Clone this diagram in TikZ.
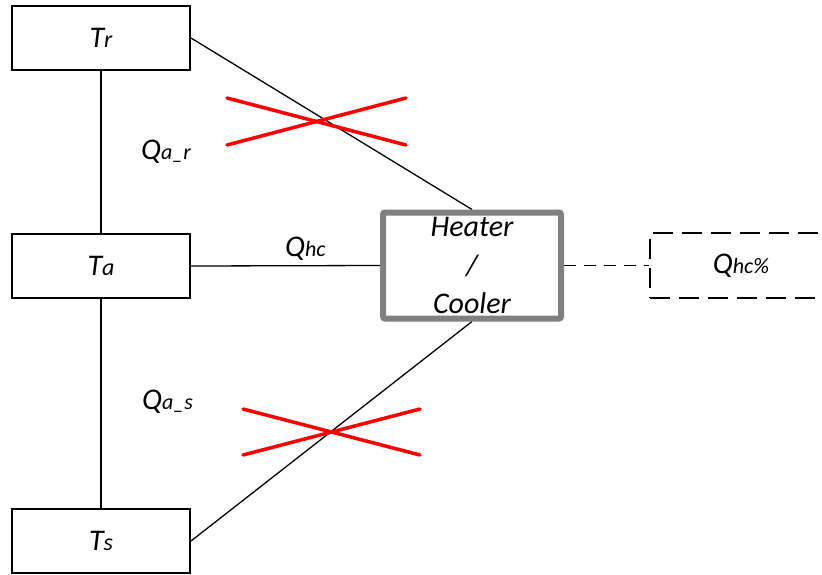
\documentclass[tikz,border=0pt]{standalone}
\usepackage{fontspec}
\setmainfont{Carlito}
\usetikzlibrary{backgrounds}
\newcommand{\mainsz}{\fontsize{30}{36}\selectfont\itshape}
\newcommand{\subT}[1]{{\fontsize{24}{28}\selectfont #1}}
\newcommand{\subQ}[1]{{\fontsize{22}{26}\selectfont #1}}
\tikzset{
  tbox/.style={draw=black, line width=2pt, fill=white, minimum width=178pt, minimum height=64pt, inner sep=0pt, font=\mainsz},
  hcbox/.style={draw=black!50, line width=6pt, fill=white, rounded corners=2pt, minimum width=178pt, minimum height=106pt, inner sep=0pt, align=center, font=\fontsize{30}{38.5}\selectfont\itshape},
  pbox/.style={draw=black, line width=2pt, dash pattern=on 20pt off 9pt, minimum width=182pt, minimum height=65pt, inner sep=0pt, font=\mainsz},
  conn/.style={draw=black, line width=1.3pt},
  dconn/.style={draw=black, line width=1.6pt, dash pattern=on 12pt off 8pt},
  lbl/.style={anchor=base west, inner sep=0pt, font=\mainsz},
  cross/.style={draw=red, line width=3.5pt, line cap=round}
}
\begin{document}
\begin{tikzpicture}[x=1pt,y=-1pt]
\useasboundingbox (0,0) rectangle (822,574);
\begin{scope}
\clip (0,0) rectangle (822,574);
\node[tbox] (Tr) at (101,38) {T\subT{r}};
\node[tbox] (Ta) at (101,266) {T\subT{a}};
\node[tbox] (Ts) at (101,541) {T\subT{s}};
\node[hcbox] (HC) at (472,265.5) {Heater\\/\\Cooler};
\node[pbox] (P) at (741,265.5) {Q\subQ{hc\%}};
\begin{scope}[on background layer]
\draw[conn] (Tr.south) -- (Ta.north);
\draw[conn] (Ta.south) -- (Ts.north);
\draw[conn] (Tr.east) -- (HC.north);
\draw[conn] (Ta.east) -- (HC.west);
\draw[conn] (Ts.east) -- (HC.south);
\draw[dconn] (HC.east) -- (P.west);
\end{scope}
\node[lbl] (Qar) at (141,159) {Q\subQ{a\_r}};
\node[lbl] (Qas) at (142,409) {Q\subQ{a\_s}};
\node[lbl] (Qhc) at (285,256) {Q\subQ{hc}};
\draw[cross] (227,98) -- (406,145);
\draw[cross] (227,145) -- (406,98);
\draw[cross] (243,409) -- (420,455);
\draw[cross] (243,455) -- (420,409);
\end{scope}
\end{tikzpicture}
\end{document}
